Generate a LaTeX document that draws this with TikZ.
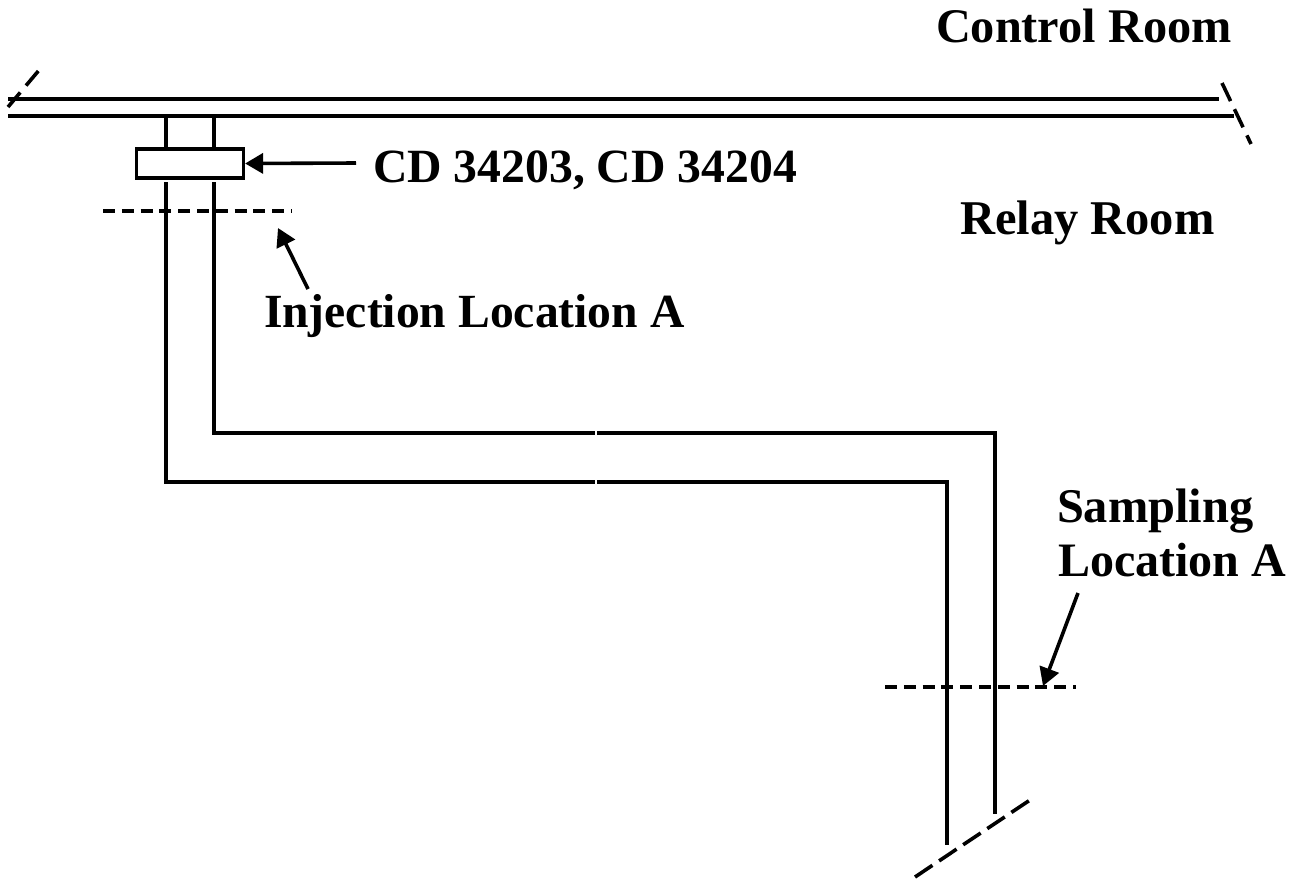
\documentclass[tikz,border=0pt]{standalone}
\usepackage{fontspec}
\setmainfont{Liberation Serif}
\usetikzlibrary{arrows.meta}
\tikzset{
  x=1pt,y=-1pt,
  wall/.style={line width=3.2pt,black},
  breakline/.style={line width=3.6pt,black,dash pattern=on 21pt off 8pt},
  refline/.style={line width=3.4pt,black,dash pattern=on 12pt off 6.8pt},
  pointer/.style={line width=3.6pt,black,-{Triangle[length=18pt,width=20pt]}},
  lbl/.style={font=\bfseries\fontsize{48}{48}\selectfont,inner sep=0pt,outer sep=0pt,anchor=base west,text=black},
  devbox/.style={draw=black,line width=3.2pt,fill=white,inner sep=0pt,minimum width=107pt,minimum height=29pt}
}
\begin{document}
\begin{tikzpicture}
\useasboundingbox (0,0) rectangle (1290,879);
% wall coordinates
\coordinate (wa1) at (8,99);
\coordinate (wa2) at (1219,99);
\coordinate (wb1) at (8,116);
\coordinate (wb2) at (1234,116);
\draw[wall] (wa1) -- (wa2);
\draw[wall] (wb1) -- (wb2);
% break marks
\coordinate (bl1) at (8,107);
\coordinate (bl2) at (40,69);
\draw[breakline,dash pattern=on 19pt off 9pt] (bl1) -- (bl2);
\coordinate (br1) at (1222,83);
\coordinate (br2) at (1251,144);
\draw[breakline,dash pattern=on 20pt off 9pt] (br1) -- (br2);
\coordinate (bb1) at (915,877);
\coordinate (bb2) at (1030,800);
\draw[breakline] (bb1) -- (bb2);
% pipe
\coordinate (pl0) at (166,116);
\coordinate (pl1) at (166,482);
\coordinate (pl2) at (947,482);
\coordinate (pl3) at (947,845);
\coordinate (pr0) at (214,116);
\coordinate (pr1) at (214,433);
\coordinate (pr2) at (995,433);
\coordinate (pr3) at (995,814);
\draw[wall,line join=miter] (pl0) -- (pl1) -- (pl2) -- (pl3);
\draw[wall,line join=miter] (pr0) -- (pr1) -- (pr2) -- (pr3);
% small breaks in the pipe runs
\fill[white] (595,428) rectangle (597,438);
\fill[white] (595,477) rectangle (597,487);
% device box with white gap below
\fill[white] (150,180) rectangle (230,182);
\node[devbox] (dev) at (190,163.5) {};
% reference lines
\coordinate (ia) at (103,211);
\coordinate (ib) at (292,211);
\draw[refline] (ia) -- (ib);
\coordinate (sa) at (885,687);
\coordinate (sb) at (1076,687);
\draw[refline] (sa) -- (sb);
% labels
\node[lbl,font=\bfseries\fontsize{48.3}{48}\selectfont] (ctrl) at (936,42) {Control Room};
\node[lbl,font=\bfseries\fontsize{47.7}{48}\selectfont] (cd) at (373,182) {CD 34203, CD 34204};
\node[lbl,font=\bfseries\fontsize{48.5}{48}\selectfont] (relay) at (960,234) {Relay Room};
\node[lbl,font=\bfseries\fontsize{47.6}{48}\selectfont] (inj) at (264,327) {Injection Location A};
\node[lbl,font=\bfseries\fontsize{48.4}{48}\selectfont] (samp) at (1057,522) {Sampling};
\node[lbl] (loc) at (1058,576) {Location A};
% pointers
\coordinate (p1s) at (356,163);
\draw[pointer] (p1s) -- (dev.east);
\coordinate (p2s) at (308,289);
\coordinate (p2e) at (278,228);
\draw[pointer] (p2s) -- (p2e);
\coordinate (p3s) at (1078,593);
\coordinate (p3e) at (1043,686);
\draw[pointer] (p3s) -- (p3e);
\end{tikzpicture}
\end{document}
